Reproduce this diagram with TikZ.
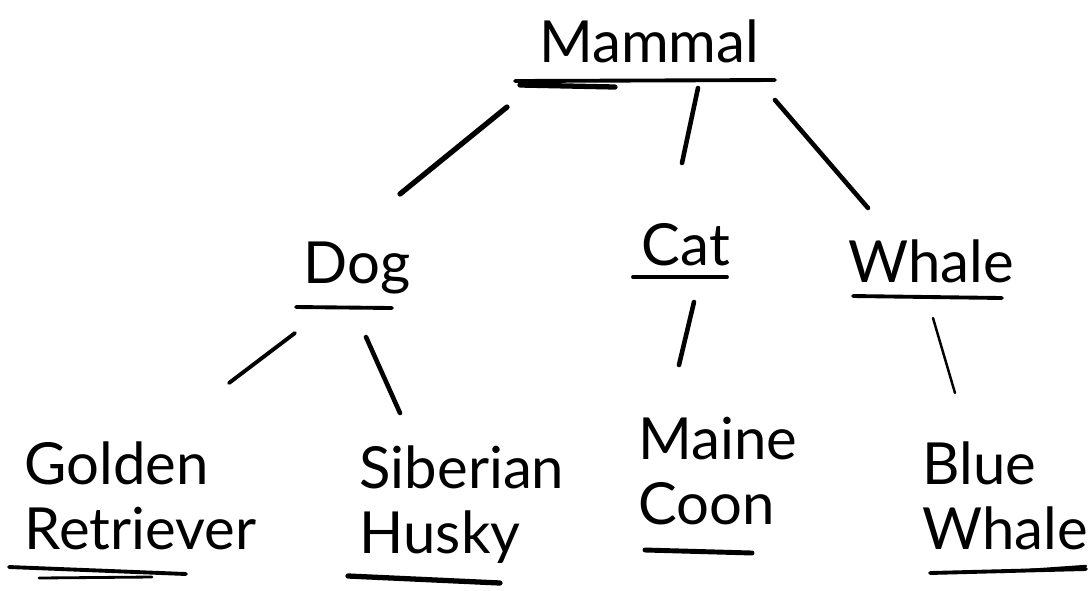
\documentclass[tikz,border=0pt]{standalone}
\usepackage{fontspec}
\setmainfont{Lato}
\usetikzlibrary{calc}
\tikzset{
  word/.style={font=\fontsize{16.5}{18.5}\selectfont, inner sep=0pt, align=left},
  branch/.style={line width=1.3pt, line cap=round},
  uline/.style={line width=1.1pt, line cap=round},
}

\begin{document}
\begin{tikzpicture}[x=0.01cm, y=-0.01cm]
    \useasboundingbox (0,0) rectangle (1090,590);

    % Labels
    \node[word, anchor=base] (mammal) at (649,62) {Mammal};
    \node[word, anchor=base] (dog) at (357,283) {Dog};
    \node[word, anchor=base] (cat) at (686,265) {Cat};
    \node[word, anchor=base] (whale) at (931,282) {Whale};
    \node[word, anchor=north west] (golden) at (24,441) {Golden\\Retriever};
    \node[word, anchor=north west] (husky) at (359,445) {Siberian\\Husky};
    \node[word, anchor=north west] (coon) at (638,416) {Maine\\Coon};
    \node[word, anchor=north west] (blue) at (922,441) {Blue\\Whale};

    % Underlines
    \draw[uline] (515,81) -- (775,80);
    \draw[uline, line width=1.5pt] (520,85) -- (615,87);
    \draw[uline] (296,307) -- (392,308);
    \draw[uline] (633,277) -- (727,277);
    \draw[uline] (853,296) -- (1002,298);
    \draw[uline] (9,567) -- (186,574);
    \draw[uline, line width=0.8pt] (39,578) -- (152,577);
    \draw[uline, line width=1.5pt] (348,576) -- (500,583);
    \draw[uline, line width=1.4pt] (645,550) -- (752,553);
    \draw[uline] (930,573) -- (1086,569);
    \draw[uline, line width=0.7pt] (1000,572) -- (1086,566);

    % Branches
    \draw[branch, line width=1.5pt] ([shift={(-142,45)}]mammal.base) -- ([shift={(43,-89)}]dog.base);
    \draw[branch] ([shift={(49,26)}]mammal.base) -- ([shift={(-4,-102)}]cat.base);
    \draw[branch] ([shift={(126,38)}]mammal.base) -- ([shift={(-63,-74)}]whale.base);
    \draw[branch, line width=1.1pt] ([shift={(-62,50)}]dog.base) -- ([shift={(205,-58)}]golden.north west);
    \draw[branch] ([shift={(9,54)}]dog.base) -- ([shift={(41,-32)}]husky.north west);
    \draw[branch] ([shift={(8,37)}]cat.base) -- ([shift={(41,-51)}]coon.north west);
    \draw[branch, line width=0.7pt] ([shift={(2,36)}]whale.base) -- ([shift={(33,-48)}]blue.north west);
\end{tikzpicture}
\end{document}
